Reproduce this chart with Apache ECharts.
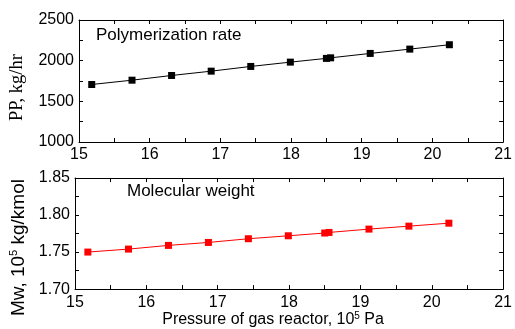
<!DOCTYPE html>
<html><head><meta charset="utf-8">
<script src="https://cdn.jsdelivr.net/npm/echarts@6/dist/echarts.min.js"></script>
<style>html,body{margin:0;padding:0;background:#fff}#c{width:515px;height:329px}</style>
</head><body><div id="c"></div>
<script>
const pressure = [15.18, 15.75, 16.31, 16.87, 17.43, 17.99, 18.50, 18.56, 19.12, 19.68, 20.24];
const ppRate = [1707, 1760, 1818, 1871, 1929, 1982, 2028, 2035, 2089, 2142, 2196];
const molWeight = [1.750, 1.754, 1.759, 1.763, 1.768, 1.772, 1.7757, 1.7765, 1.781, 1.785, 1.789];
const xRange = [15, 21];
const ppRange = [1000, 2500];
const mwRange = [1.70, 1.85];

const F = 'Liberation Sans, Arial, sans-serif';
const chart = echarts.init(document.getElementById('c'));
const axLine = {show: true, lineStyle: {color: '#000', width: 1}};
const tick = {show: true, inside: true, length: 4, lineStyle: {color: '#000'}};
const mtick = {show: true, splitNumber: 2, length: 4, lineStyle: {color: '#000'}};
const lab = {color: '#000', fontFamily: F, fontSize: 16, margin: 5};

function xAx(gi, pos, showLab, name) {
  return {
    type: 'value', gridIndex: gi, position: pos, min: xRange[0], max: xRange[1], interval: 1,
    axisLine: axLine, axisTick: tick, minorTick: mtick, splitLine: {show: false},
    axisLabel: showLab ? lab : {show: false},
    name: name || '', nameLocation: 'middle', nameGap: 10,
    nameTextStyle: {color: '#000', fontFamily: F, fontSize: 16, padding: [0, 32, 0, 0],
      rich: {s: {fontSize: 10, fontFamily: F, color: '#000', padding: [0, 0, 8, 0]}}}
  };
}
function yAx(gi, pos, rng, itv, showLab, fmt, name, gap, nts) {
  return {
    type: 'value', gridIndex: gi, position: pos, min: rng[0], max: rng[1], interval: itv,
    axisLine: axLine, axisTick: tick, minorTick: mtick, splitLine: {show: false},
    axisLabel: showLab ? Object.assign({}, lab, {formatter: fmt}) : {show: false},
    name: name || '', nameLocation: 'middle', nameGap: gap || 0, nameRotate: 90,
    nameTextStyle: nts
  };
}

chart.setOption({
  animation: false,
  backgroundColor: '#fff',
  grid: [
    {left: 75, right: 8, top: 20, height: 122},
    {left: 75, right: 8, top: 178, height: 122}
  ],
  graphic: [
    {type: 'text', left: 96, top: 27, style: {text: 'Polymerization rate', fill: '#000', font: '17px ' + F}},
    {type: 'text', left: 127, top: 183, style: {text: 'Molecular weight', fill: '#000', font: '17px ' + F}}
  ],
  xAxis: [
    xAx(0, 'bottom', true),
    xAx(0, 'top', false),
    xAx(1, 'bottom', true, 'Pressure of gas reactor, 10{s|5} Pa'),
    xAx(1, 'top', false)
  ],
  yAxis: [
    yAx(0, 'left', ppRange, 500, true, v => String(v), 'PP, kg/hr', 52,
      {color: '#000', fontFamily: 'Liberation Serif, Times New Roman, serif', fontSize: 18.5, padding: [0, 13, 0, 0]}),
    yAx(0, 'right', ppRange, 500, false),
    yAx(1, 'left', mwRange, 0.05, true, v => v.toFixed(2), 'Mw, 10{s|5} kg/kmol', 46,
      {color: '#000', fontFamily: F, fontSize: 19, padding: [0, 28, 0, 0],
       rich: {s: {fontSize: 11, fontFamily: F, color: '#000', padding: [0, 0, 9, 0]}}}),
    yAx(1, 'right', mwRange, 0.05, false)
  ],
  series: [
    {type: 'line', xAxisIndex: 0, yAxisIndex: 0, data: pressure.map((x, i) => [x, ppRate[i]]),
     symbol: 'rect', symbolSize: 7, lineStyle: {color: '#000', width: 1}, itemStyle: {color: '#000'}},
    {type: 'line', xAxisIndex: 2, yAxisIndex: 2, data: pressure.map((x, i) => [x, molWeight[i]]),
     symbol: 'rect', symbolSize: 7, lineStyle: {color: '#ff0000', width: 1}, itemStyle: {color: '#ff0000'}}
  ]
});
</script></body></html>
